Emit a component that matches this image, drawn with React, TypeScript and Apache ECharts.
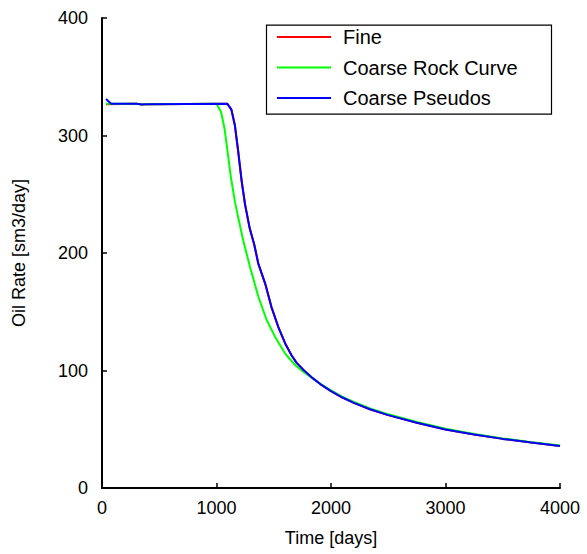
import React, { useEffect, useRef } from "react";
import * as echarts from "echarts";

// ---- data ----
const fineTime = [35, 300, 350, 400, 1095, 1130, 1160, 1190, 1220, 1250, 1290, 1330, 1365, 1425, 1480, 1540, 1600, 1655, 1700, 1760, 1840, 1920, 2000, 2100, 2200, 2340, 2500, 2750, 3000, 3250, 3500, 3750, 4000];
const fineRate = [326.5, 327, 326.3, 326.7, 327, 322, 309, 286, 261, 241, 221, 207, 191, 174, 154, 137, 123, 113, 106.5, 100.4, 93.5, 87.5, 82.5, 77, 72.5, 67, 62, 55.5, 49.8, 45.5, 41.8, 38.7, 35.8];

const rockTime = [35, 300, 350, 400, 1000, 1040, 1070, 1097, 1127, 1161, 1191, 1235, 1293, 1365, 1438, 1511, 1598, 1686, 1758, 1840, 1920, 2000, 2100, 2200, 2340, 2500, 2750, 3000, 3250, 3500, 3750, 4000];
const rockRate = [327, 327, 326.3, 326.7, 327, 320, 306, 286, 263.6, 243.7, 229.5, 210, 188, 163, 143, 128.8, 114.6, 104.7, 99, 93.2, 87.8, 83, 77.6, 73.2, 67.8, 62.7, 56.2, 50.4, 46, 42.2, 39, 36.1];

const pseudoTime = [35, 80, 300, 350, 400, 1095, 1130, 1160, 1190, 1220, 1250, 1290, 1330, 1365, 1425, 1480, 1540, 1600, 1655, 1700, 1760, 1840, 1920, 2000, 2100, 2200, 2340, 2500, 2750, 3000, 3250, 3500, 3750, 4000];
const pseudoRate = [331, 327, 327, 326.3, 326.7, 327, 322, 309, 286, 261, 241, 221, 207, 191, 174, 154, 137, 123, 113, 106.5, 100.4, 93.5, 87.5, 82.5, 77, 72.5, 67, 62, 55.5, 49.8, 45.5, 41.8, 38.7, 35.8];

const seriesNames = ["Fine", "Coarse Rock Curve", "Coarse Pseudos"];
const seriesColors = ["#ff0000", "#00ff00", "#0000ff"];

const xTicks = { min: 0, max: 4000, interval: 1000 };
const yTicks = { min: 0, max: 400, interval: 100 };

const FONT = "'Liberation Sans', Arial, sans-serif";

function pairs(xs: number[], ys: number[]) {
  return xs.map((x, i) => [x, ys[i]]);
}

export default function App() {
  const ref = useRef<HTMLDivElement>(null);
  useEffect(() => {
    document.body.style.margin = "0";
    if (!ref.current) return;
    const chart = echarts.init(ref.current, undefined, { renderer: "svg" });
    const datasets = [pairs(fineTime, fineRate), pairs(rockTime, rockRate), pairs(pseudoTime, pseudoRate)];
    chart.setOption({
      animation: false,
      backgroundColor: "#ffffff",
      grid: { left: 102, right: 27, top: 18, bottom: 66, containLabel: false },
      xAxis: {
        type: "value",
        min: xTicks.min,
        max: xTicks.max,
        interval: xTicks.interval,
        name: "Time [days]",
        nameLocation: "middle",
        nameGap: 41,
        nameTextStyle: { fontFamily: FONT, fontSize: 18, color: "#000" },
        axisLine: { show: true, onZero: false, lineStyle: { color: "#000", width: 2 } },
        axisTick: { show: true, inside: true, length: 5, lineStyle: { color: "#000", width: 1.5 } },
        axisLabel: { fontFamily: FONT, fontSize: 18, color: "#000", margin: 11, formatter: (v: number) => String(v) },
        splitLine: { show: false },
      },
      yAxis: {
        type: "value",
        min: yTicks.min,
        max: yTicks.max,
        interval: yTicks.interval,
        name: "Oil Rate [sm3/day]",
        nameLocation: "middle",
        nameGap: 74,
        nameTextStyle: { fontFamily: FONT, fontSize: 18, color: "#000" },
        axisLine: { show: true, onZero: false, lineStyle: { color: "#000", width: 2 } },
        axisTick: { show: true, inside: true, length: 5, lineStyle: { color: "#000", width: 1.5 } },
        axisLabel: { fontFamily: FONT, fontSize: 18, color: "#000", margin: 14, formatter: (v: number) => String(v) },
        splitLine: { show: false },
      },
      legend: {
        orient: "vertical",
        left: 277,
        top: 26,
        padding: 0,
        itemWidth: 54,
        itemHeight: 2,
        itemGap: 8.5,
        icon: "rect",
        textStyle: { fontFamily: FONT, fontSize: 20, color: "#000", lineHeight: 22, padding: [0, 0, 0, 7] },
        data: seriesNames,
      },
      graphic: [
        {
          type: "rect",
          left: 264,
          top: 22.7,
          shape: { width: 285, height: 89 },
          style: { fill: "none", stroke: "#000", lineWidth: 1.2 },
          silent: true,
          z: 100,
        },
      ],
      series: seriesNames.map((name, i) => ({
        name,
        type: "line",
        data: datasets[i],
        showSymbol: false,
        symbol: "none",
        lineStyle: { color: seriesColors[i], width: 2 },
        itemStyle: { color: seriesColors[i] },
        z: 2 + i,
      })),
    });
    return () => chart.dispose();
  }, []);
  return <div ref={ref} style={{ width: 587, height: 554 }} />;
}
